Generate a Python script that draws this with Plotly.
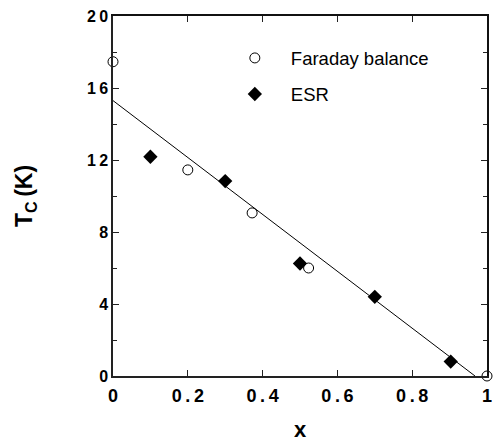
import plotly.graph_objects as go

faraday_x = [0.0, 0.2, 0.372, 0.523, 1.0]
faraday_y = [17.46, 11.45, 9.06, 6.0, 0.0]
esr_x = [0.1, 0.3, 0.5, 0.7, 0.903]
esr_y = [12.18, 10.83, 6.25, 4.4, 0.8]
fit_x = [0.0, 0.968]
fit_y = [15.3, 0.0]

xtick_vals = [0, 0.2, 0.4, 0.6, 0.8, 1]
xtick_text = ["0", "0.2", "0.4", "0.6", "0.8", "1"]
ytick_vals = [0, 4, 8, 12, 16, 20]
ytick_text = ["0", "4", "8", "12", "16", "20"]

TS = "\u2009"  # thin space to mimic the wide letter spacing


def spaced(s):
    return TS.join(list(s))


fig = go.Figure()
fig.add_trace(go.Scatter(x=fit_x, y=fit_y, mode="lines",
                         line=dict(color="black", width=1), showlegend=False, hoverinfo="skip"))
fig.add_trace(go.Scatter(x=faraday_x, y=faraday_y, mode="markers", name="Faraday balance",
                         legendgroup="a",
                         marker=dict(symbol="circle-open", size=10, color="black",
                                     line=dict(width=1, color="black")), cliponaxis=False))
fig.add_trace(go.Scatter(x=esr_x, y=esr_y, mode="markers", name="ESR",
                         legendgroup="b",
                         marker=dict(symbol="diamond", size=11, color="black"), cliponaxis=False))
# invisible trace so the top/right frame axes get drawn
fig.add_trace(go.Scatter(x=fit_x, y=fit_y, mode="lines", xaxis="x2", yaxis="y2",
                         line=dict(color="rgba(0,0,0,0)", width=0), showlegend=False,
                         hoverinfo="skip"))

axis_common = dict(showgrid=False, zeroline=False, showline=True, linecolor="#222222",
                   linewidth=1.5, ticks="inside", ticklen=6,
                   tickcolor="#222222", tickwidth=1.2, automargin=False,
                   ticklabeloverflow="allow")
frame_axis = dict(axis_common, linecolor="#111111", linewidth=2)
minor_y = dict(dtick=2, ticks="inside", ticklen=4, tickcolor="#222222", tickwidth=1.2)

fig.update_layout(
    xaxis=dict(range=[0, 1], tickvals=xtick_vals, ticktext=[spaced(t) for t in xtick_text],
               tickfont=dict(family="Liberation Sans, Arial", size=18, color="black", weight="bold"),
               ticklabelstandoff=3,
               title=dict(text="<b>x</b>", font=dict(family="Liberation Sans, Arial", size=22, color="black"),
                          standoff=16),
               **axis_common),
    yaxis=dict(range=[0, 20], tickvals=ytick_vals, ticktext=[spaced(t) for t in ytick_text],
               tickfont=dict(family="Liberation Sans, Arial", size=16, color="black", weight="bold"),
               minor=minor_y,
               title=dict(text="<b>T<sub>C</sub>" + TS + "(K)</b>",
                          font=dict(family="Liberation Sans, Arial", size=23, color="black"),
                          standoff=48),
               **axis_common),
    xaxis2=dict(range=[0, 1], tickvals=xtick_vals, showticklabels=False,
                overlaying="x", side="top", anchor="y2", **frame_axis),
    yaxis2=dict(range=[0, 20], tickvals=ytick_vals, showticklabels=False, minor=minor_y,
                overlaying="y", side="right", anchor="x2", **frame_axis),
    width=493, height=443,
    margin=dict(l=113, r=6, t=16, b=67),
    plot_bgcolor="white", paper_bgcolor="white",
    legend=dict(x=0.283, y=0.935, xanchor="left", yanchor="top", bgcolor="rgba(0,0,0,0)",
                font=dict(family="Liberation Sans, Arial", size=18.5, color="black"),
                tracegroupgap=9, itemwidth=62, traceorder="grouped"),
)

fig.write_html("out.html", config={"displayModeBar": False},
               post_script="document.body.style.margin='0px';document.body.style.overflow='hidden';")
